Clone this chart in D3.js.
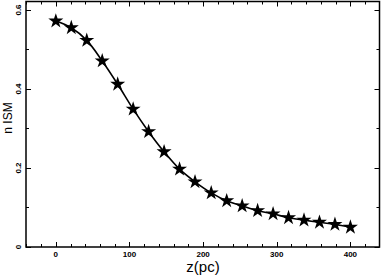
<html>
<head>
<meta charset="utf-8">
<script src="https://cdnjs.cloudflare.com/ajax/libs/d3/7.8.5/d3.min.js"></script>
<style>
  body { margin: 0; background: #fff; }
  text { font-family: "Liberation Sans", Arial, sans-serif; }
</style>
</head>
<body>
<div id="chart"></div>
<script>
// data
var z = [0, 21, 42, 63, 84, 105, 126, 147, 168, 189, 211, 232, 253, 274, 295, 316, 337, 358, 379, 400];
var nIsm = [0.572, 0.555, 0.523, 0.471, 0.412, 0.349, 0.292, 0.241, 0.197, 0.165,
            0.137, 0.117, 0.104, 0.092, 0.084, 0.074, 0.068, 0.0625, 0.057, 0.050];
var xTicks = [0, 100, 200, 300, 400];
var yTicks = [0, 0.2, 0.4, 0.6];
var xMinor = d3.range(-40, 441, 20);
var yMinor = [0.1, 0.3, 0.5];

var W = 382, H = 276;
var L = 26, R = 379.5, T = 1.5, B = 247;

var x = d3.scaleLinear().domain([-40.5, 439.5]).range([L, R]);
var y = d3.scaleLinear().domain([0, 0.6215]).range([B, T]);

var svg = d3.select("#chart").append("svg")
    .attr("width", W).attr("height", H);

var pts = z.map(function(v, i) { return [v, nIsm[i]]; });

// curve
svg.append("path")
    .datum(pts)
    .attr("fill", "none")
    .attr("stroke", "#000")
    .attr("stroke-width", 1.6)
    .attr("d", d3.line().x(function(d) { return x(d[0]); }).y(function(d) { return y(d[1]); })
        .curve(d3.curveCatmullRom));

// stars
svg.selectAll(".star").data(pts).enter().append("path")
    .attr("class", "star")
    .attr("transform", function(d) { return "translate(" + x(d[0]) + "," + y(d[1]) + ")"; })
    .attr("d", d3.symbol().type(d3.symbolStar).size(70))
    .attr("fill", "#000");

// ticks (inward on all four sides)
var tk = svg.append("g").attr("stroke", "#000").attr("stroke-width", 1);
xMinor.forEach(function(v) {
  var len = (xTicks.indexOf(v) >= 0) ? 5 : 3;
  var px = Math.round(x(v)) + 0.5;
  if (px <= L || px >= R) return;
  tk.append("line").attr("x1", px).attr("x2", px).attr("y1", B).attr("y2", B - len);
  tk.append("line").attr("x1", px).attr("x2", px).attr("y1", T).attr("y2", T + len);
});
yTicks.concat(yMinor).forEach(function(v) {
  var len = (yTicks.indexOf(v) >= 0) ? 5 : 3;
  var py = Math.round(y(v)) + 0.5;
  tk.append("line").attr("x1", L).attr("x2", L + len).attr("y1", py).attr("y2", py);
  tk.append("line").attr("x1", R).attr("x2", R - len).attr("y1", py).attr("y2", py);
});

// frame
svg.append("rect")
    .attr("x", L).attr("y", T).attr("width", R - L).attr("height", B - T)
    .attr("fill", "none").attr("stroke", "#000").attr("stroke-width", 1.5);

// tick labels
svg.selectAll(".xl").data(xTicks).enter().append("text")
    .attr("x", function(d) { return x(d); })
    .attr("y", 257)
    .attr("text-anchor", "middle")
    .attr("font-size", 8).attr("font-weight", "bold")
    .text(function(d) { return d; });

svg.selectAll(".yl").data(yTicks).enter().append("text")
    .attr("transform", function(d) { return "translate(21," + y(d) + ") rotate(-90)"; })
    .attr("text-anchor", "middle")
    .attr("font-size", 8).attr("font-weight", "bold")
    .text(function(d) { return d; });

// axis titles
svg.append("text")
    .attr("x", 203).attr("y", 272)
    .attr("text-anchor", "middle")
    .attr("font-size", 15)
    .text("z(pc)");

svg.append("text")
    .attr("transform", "translate(12,118) rotate(-90)")
    .attr("text-anchor", "middle")
    .attr("font-size", 12)
    .text("n  ISM");
</script>
</body>
</html>
